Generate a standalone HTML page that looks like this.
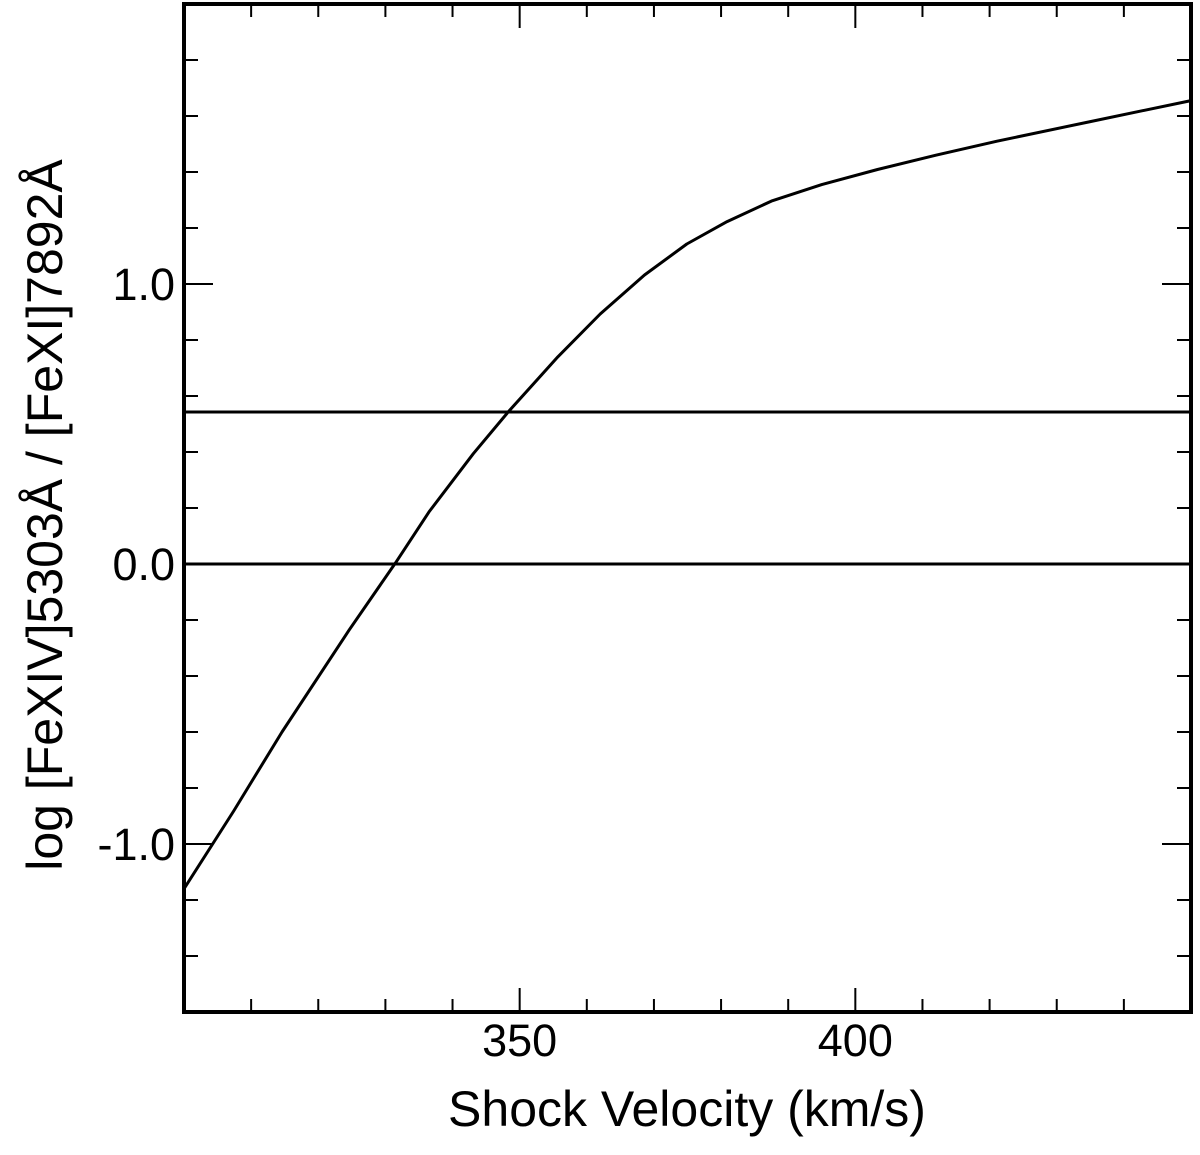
<!DOCTYPE html>
<html><head><meta charset="utf-8"><style>
html,body{margin:0;padding:0;background:#fff;}
svg{display:block;}
text{font-family:"Liberation Sans",Arial,sans-serif;fill:#000;}
</style></head><body>
<svg id="chart" width="1200" height="1155" viewBox="0 0 1200 1155">
<g id="ticks"></g>
<g id="labels"></g>
<g id="refs"></g>
<g id="series"></g>
<rect x="184" y="4" width="1007" height="1008" fill="none" stroke="#000" stroke-width="4"/>
<text x="687" y="1126" font-size="50" text-anchor="middle">Shock Velocity (km/s)</text>
<text transform="translate(62,515) rotate(-90)" font-size="50" text-anchor="middle">log [FeXIV]5303Å / [FeXI]7892Å</text>
</svg>
<script>
const velocities = [300, 307.4, 314.6, 324.6, 331.5, 336.5, 343.1, 348.4, 355.7, 362.0, 368.6, 374.9, 380.9, 387.5, 395, 403.3, 412, 421.1, 435, 450];
const ratios = [-1.16, -0.882, -0.600, -0.236, 0.004, 0.186, 0.394, 0.546, 0.740, 0.893, 1.032, 1.143, 1.223, 1.296, 1.355, 1.409, 1.46, 1.51, 1.58, 1.655];
const refValues = [0, 0.543];
const xTickLabels = [350, 400];
const yTickLabels = [-1.0, 0.0, 1.0];

const X0=184, X1=1191, Y0=1012, Y1=4;
const xMin=300, xMax=450, yMin=-1.6, yMax=2.0;
function sx(v){return X0+(v-xMin)/(xMax-xMin)*(X1-X0);}
function sy(v){return Y0-(v-yMin)/(yMax-yMin)*(Y0-Y1);}
const NS='http://www.w3.org/2000/svg';
function mk(tag,attrs,parent){const e=document.createElementNS(NS,tag);for(const k in attrs)e.setAttribute(k,attrs[k]);parent.appendChild(e);return e;}

const tg=document.getElementById('ticks');
for(let v=310; v<450; v+=10){
  const major = v%50===0;
  const len = major?24:13;
  const x=sx(v);
  const t1=mk('line',{x1:x,y1:Y0,x2:x,y2:Y0-len,stroke:'#000','stroke-width':2},tg);
  
  
  const t2=mk('line',{x1:x,y1:Y1,x2:x,y2:Y1+len,stroke:'#000','stroke-width':2},tg);
  
  
}
for(let i=-7;i<10;i++){
  const v=i*0.2;
  const major=Math.abs(v-Math.round(v))<1e-6;
  const len=major?29:14;
  const y=sy(v);
  const t1=mk('line',{x1:X0,y1:y,x2:X0+len,y2:y,stroke:'#000','stroke-width':2},tg);
  
  
  const t2=mk('line',{x1:X1,y1:y,x2:X1-len,y2:y,stroke:'#000','stroke-width':2},tg);
  
  
}
const lg=document.getElementById('labels');
xTickLabels.forEach(v=>{
  const t=mk('text',{x:sx(v),y:1056,'font-size':45,'text-anchor':'middle'},lg);
  t.textContent=v;
  
  
});
yTickLabels.forEach(v=>{
  const t=mk('text',{x:175,y:sy(v)+16,'font-size':45,'text-anchor':'end'},lg);
  t.textContent=v.toFixed(1);
  
  
});
const rg=document.getElementById('refs');
refValues.forEach(v=>{
  const l=mk('line',{x1:X0,y1:sy(v),x2:X1,y2:sy(v),stroke:'#000','stroke-width':3},rg);
  
  
});
const sg=document.getElementById('series');
const pts=velocities.map((v,i)=>sx(v).toFixed(1)+','+sy(ratios[i]).toFixed(1)).join(' ');
const pl=mk('polyline',{points:pts,fill:'none',stroke:'#000','stroke-width':3,'stroke-linejoin':'round'},sg);


</script>
</body></html>
